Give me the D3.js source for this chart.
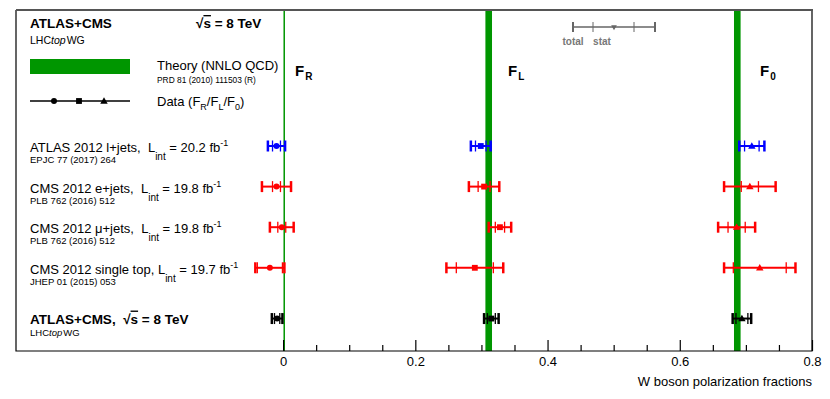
<!DOCTYPE html>
<html>
<head>
<meta charset="utf-8">
<script src="https://cdn.jsdelivr.net/npm/d3@7"></script>
<style>
  body { margin: 0; background: #fff; }
  svg text { font-family: "Liberation Sans", Arial, Helvetica, sans-serif; white-space: pre; }
</style>
</head>
<body>
<svg id="chart" width="830" height="399"></svg>
<script>
// measurements, top to bottom
const rowNames = ["ATLAS 2012 l+jets,  ", "CMS 2012 e+jets,  ", "CMS 2012 \u03bc+jets,  ", "CMS 2012 single top, "];
const lumis = ["20.2", "19.8", "19.8", "19.7"];
const refs = ["EPJC 77 (2017) 264", "PLB 762 (2016) 512", "PLB 762 (2016) 512", "JHEP 01 (2015) 053"];
const rowColors = ["#0000ff", "#ff0000", "#ff0000", "#ff0000", "#000000"];

// values + errors (last entry = ATLAS+CMS combination)
const fR = [-0.010, -0.010, -0.002, -0.020, -0.009];
const fRStat = [0.006, 0.006, 0.006, 0.019, 0.004];
const fRTot = [0.013, 0.022, 0.018, 0.022, 0.008];
const fL = [0.299, 0.304, 0.328, 0.290, 0.315];
const fLStat = [0.008, 0.009, 0.007, 0.028, 0.006];
const fLTot = [0.015, 0.023, 0.017, 0.043, 0.011];
const f0 = [0.709, 0.706, 0.686, 0.721, 0.694];
const f0Stat = [0.011, 0.013, 0.013, 0.040, 0.009];
const f0Tot = [0.019, 0.039, 0.028, 0.054, 0.014];

// NNLO QCD prediction
const theoryNames = ["R", "L", "0"];
const theory = [0.0017, 0.311, 0.687];
const theoryErr = [0.0001, 0.005, 0.005];

const majorTicks = [0, 0.2, 0.4, 0.6, 0.8];

const svg = d3.select("#chart");
const plotTop = 10, plotBottom = 351, plotLeft = 16, plotRight = 812;
const green = "#009600";

const x = d3.scaleLinear().domain([-0.404, 0.8]).range([plotLeft, plotRight]);
const y = d3.scaleLinear().domain([0, 4]).range([146, 308.4]);
const rowY = i => y(i === 4 ? 4.25 : i);

// theory bands
theory.forEach((v, i) => {
    const w = Math.max(x(v + theoryErr[i]) - x(v - theoryErr[i]), 1.5);
    svg.append("rect")
        .attr("x", x(v) - w / 2).attr("y", plotTop)
        .attr("width", w).attr("height", plotBottom - plotTop)
        .attr("fill", green);
});

// frame
svg.append("path")
    .attr("d", `M${plotLeft},${plotTop}V${plotBottom}H${plotRight}V${plotTop}`)
    .attr("fill", "none").attr("stroke", "#000").attr("stroke-width", 1.2);
svg.append("line")
    .attr("x1", plotLeft).attr("x2", plotRight + 1).attr("y1", plotTop).attr("y2", plotTop)
    .attr("stroke", "#555").attr("stroke-width", 2);

// axis
const axis = svg.append("g").attr("transform", `translate(0,${plotBottom})`)
    .call(d3.axisBottom(x).tickValues(majorTicks).tickSizeInner(-11).tickSizeOuter(0)
        .tickPadding(6).tickFormat(d => d === 0 ? "0" : d3.format(".1f")(d)));
axis.select(".domain").remove();
axis.selectAll("text").attr("font-size", 13).attr("fill", "#000")
    .style("font-family", "'Liberation Sans', Arial, sans-serif");
axis.selectAll("line").attr("stroke-width", 1.2);
const minor = d3.range(0, 0.801, 0.05).filter(v => Math.abs(v / 0.2 - Math.round(v / 0.2)) > 1e-6);
const axisMinor = svg.append("g").attr("transform", `translate(0,${plotBottom})`)
    .call(d3.axisBottom(x).tickValues(minor).tickSizeInner(-6).tickSizeOuter(0).tickFormat(""));
axisMinor.select(".domain").remove();
axisMinor.selectAll("line").attr("stroke-width", 1.2);

svg.append("text").attr("x", plotRight).attr("y", 386).attr("text-anchor", "end")
    .attr("font-size", 13).text("W boson polarization fractions");

// F labels
[295, 508, 760].forEach((px, i) => {
    const t = svg.append("text").attr("x", px).attr("y", 76)
        .attr("font-size", 15).attr("font-weight", "bold");
    t.append("tspan").text("F");
    t.append("tspan").attr("font-size", 10).attr("dy", 4).attr("dx", 1).text(theoryNames[i]);
});

// error bars
const symbols = [d3.symbolCircle, d3.symbolSquare, d3.symbolTriangle];
const symSize = [28, 34, 24];
const fractions = [[fR, fRStat, fRTot], [fL, fLStat, fLTot], [f0, f0Stat, f0Tot]];

function errorBar(g, cx, cy, stat, tot, color, k) {
    g.append("line").attr("x1", x(cx - tot)).attr("x2", x(cx + tot))
        .attr("y1", cy).attr("y2", cy).attr("stroke", color).attr("stroke-width", 2);
    [cx - tot, cx + tot].forEach(v => g.append("line")
        .attr("x1", x(v)).attr("x2", x(v)).attr("y1", cy - 5.5).attr("y2", cy + 5.5)
        .attr("stroke", color).attr("stroke-width", 2.5));
    [cx - stat, cx + stat].forEach(v => g.append("line")
        .attr("x1", x(v)).attr("x2", x(v)).attr("y1", cy - 5.5).attr("y2", cy + 5.5)
        .attr("stroke", color).attr("stroke-width", 1.3));
    g.append("path").attr("d", d3.symbol(symbols[k], symSize[k]))
        .attr("transform", `translate(${x(cx)},${cy + (k === 2 ? 0.5 : 0)})`)
        .attr("fill", color);
}

const bars = svg.append("g");
rowColors.forEach((c, i) => {
    fractions.forEach(([vals, stat, tot], k) => {
        errorBar(bars, vals[i], rowY(i), stat[i], tot[i], c, k);
    });
});

// row labels
rowNames.forEach((name, i) => {
    const t = svg.append("text").attr("x", 30).attr("y", rowY(i) + 6).attr("font-size", 13);
    t.append("tspan").text(name + "L");
    t.append("tspan").attr("font-size", 10).attr("dy", 8).text("int");
    t.append("tspan").attr("dy", -8).text(" = " + lumis[i] + " fb");
    t.append("tspan").attr("font-size", 9).attr("dy", -6).text("-1");
    svg.append("text").attr("x", 30).attr("y", rowY(i) + 17).attr("font-size", 9.5).text(refs[i]);
});

function lhcTop(px, py, size) {
    const t = svg.append("text").attr("x", px).attr("y", py).attr("font-size", size);
    t.append("tspan").text("LHC");
    t.append("tspan").attr("font-style", "italic").text("top");
    t.append("tspan").attr("dx", 1).text("WG");
}

function sqrtS(t) {
    t.append("tspan").text("\u221a");
    t.append("tspan").style("text-decoration", "overline").text("s");
    t.append("tspan").text(" = 8 TeV");
}

// combination label
const comb = svg.append("text").attr("x", 30).attr("y", rowY(4) + 5)
    .attr("font-size", 13.5).attr("font-weight", "bold");
comb.append("tspan").text("ATLAS+CMS,  ");
sqrtS(comb);
lhcTop(30, rowY(4) + 17, 9.5);

// header
svg.append("text").attr("x", 30).attr("y", 28).attr("font-size", 13.5)
    .attr("font-weight", "bold").text("ATLAS+CMS");
lhcTop(30, 44, 10.5);
const energy = svg.append("text").attr("x", 196).attr("y", 28)
    .attr("font-size", 13.5).attr("font-weight", "bold");
sqrtS(energy);

// legend: theory + data
svg.append("rect").attr("x", 30).attr("y", 59).attr("width", 100).attr("height", 15).attr("fill", green);
svg.append("text").attr("x", 157).attr("y", 70).attr("font-size", 13).text("Theory (NNLO QCD)");
svg.append("text").attr("x", 157).attr("y", 83).attr("font-size", 8.4).text("PRD 81 (2010) 111503 (R)");

svg.append("line").attr("x1", 30).attr("x2", 130).attr("y1", 101).attr("y2", 101)
    .attr("stroke", "#000").attr("stroke-width", 1.3);
[54, 79, 104].forEach((px, k) => svg.append("path")
    .attr("d", d3.symbol(symbols[k], symSize[k]))
    .attr("transform", `translate(${px},${101 + (k === 2 ? 0.5 : 0)})`));
const dl = svg.append("text").attr("x", 157).attr("y", 106).attr("font-size", 13);
dl.append("tspan").text("Data (F");
dl.append("tspan").attr("font-size", 9).attr("dy", 4).text("R");
dl.append("tspan").attr("dy", -4).text("/F");
dl.append("tspan").attr("font-size", 9).attr("dy", 4).text("L");
dl.append("tspan").attr("dy", -4).text("/F");
dl.append("tspan").attr("font-size", 9).attr("dy", 4).text("0");
dl.append("tspan").attr("dy", -4).text(")");

// legend: total / stat
const key = svg.append("g").attr("stroke", "#666");
key.append("line").attr("x1", 573).attr("x2", 655).attr("y1", 27).attr("y2", 27).attr("stroke-width", 1.5);
[573, 655].forEach(px => key.append("line").attr("x1", px).attr("x2", px)
    .attr("y1", 22).attr("y2", 32).attr("stroke-width", 2));
[593, 634].forEach(px => key.append("line").attr("x1", px).attr("x2", px)
    .attr("y1", 22).attr("y2", 32).attr("stroke-width", 1));
svg.append("path").attr("d", d3.symbol(d3.symbolTriangle, 14))
    .attr("transform", "translate(614,27) rotate(180)").attr("fill", "#666");
svg.append("text").attr("x", 573).attr("y", 45).attr("text-anchor", "middle")
    .attr("font-size", 10).attr("font-weight", "bold").attr("fill", "#777").text("total");
svg.append("text").attr("x", 602).attr("y", 45).attr("text-anchor", "middle")
    .attr("font-size", 10).attr("font-weight", "bold").attr("fill", "#777").text("stat");
</script>
</body>
</html>
